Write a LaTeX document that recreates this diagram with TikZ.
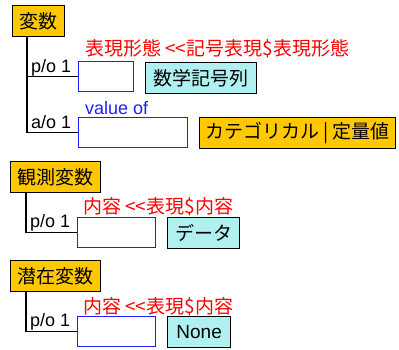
\documentclass[tikz,border=0pt]{standalone}
\usepackage{fontspec}
\setmainfont{Noto Sans CJK JP}
\newfontfamily\latfont{Liberation Sans}
\definecolor{conccol}{RGB}{255,200,0}
\definecolor{instcol}{RGB}{176,240,240}
\definecolor{slotblue}{RGB}{30,30,255}
\definecolor{rolered}{RGB}{255,0,0}

\tikzset{
    conc/.style={draw=black, line width=1.3pt, fill=conccol, minimum height=31pt, inner sep=0pt, anchor=north west},
    inst/.style={draw=black, line width=1.3pt, fill=instcol, minimum height=31pt, inner sep=0pt, anchor=north west},
    slot/.style={draw=slotblue, line width=1.3pt, fill=white, minimum height=30pt, inner sep=0pt, anchor=north west},
    role/.style={text=rolered, anchor=base west, inner sep=0pt},
    card/.style={font=\latfont\fontsize{18}{20}\selectfont, anchor=base west, inner sep=0pt},
    link/.style={line width=1.3pt, black}
}

\begin{document}
\begin{tikzpicture}[x=1pt, y=-1pt, font=\fontsize{19}{21}\selectfont]

    \useasboundingbox (0,0) rectangle (399,349);

    % first concept
    \node [conc, minimum width=52pt] (hensu) at (12,5) {変数};

    \node [slot, minimum width=55pt] (slotA) at (78,61) {};
    \node [card] (poA) at (31,72) {p/o 1};
    \node [role] (roleA) at (85,55) {表現形態 <\kern0pt<記号表現\$表現形態};
    \node [inst, minimum width=111pt] (kigo) at (145,62) {数学記号列};

    \node [slot, minimum width=109pt] (slotB) at (78,117) {};
    \node [card] (aoB) at (31,128) {a/o 1};
    \node [card, text=slotblue] (valB) at (85,114) {value of};
    \node [conc, minimum width=196pt] (cate) at (199,117) {カテゴリカル | 定量値};

    \draw [link] ([xshift=15pt]hensu.south west) |- (slotA.west);
    \draw [link] ([xshift=15pt]hensu.south west) |- (slotB.west);

    % second concept
    \node [conc, minimum width=90pt] (kansoku) at (10,161) {観測変数};

    \node [slot, minimum width=78pt] (slotC) at (77,217) {};
    \node [card] (poC) at (30,227) {p/o 1};
    \node [role] (roleC) at (83,213) {内容 <\kern0pt<表現\$内容};
    \node [inst, minimum width=72pt] (data) at (167,217) {データ};

    \draw [link] ([xshift=16pt]kansoku.south west) |- (slotC.west);

    % third concept
    \node [conc, minimum width=90pt] (senzai) at (10,260) {潜在変数};

    \node [slot, minimum width=78pt] (slotD) at (77,316) {};
    \node [card] (poD) at (30,326) {p/o 1};
    \node [role] (roleD) at (83,313) {内容 <\kern0pt<表現\$内容};
    \node [inst, minimum width=63pt, font=\latfont\fontsize{19}{21}\selectfont] (none) at (167,316) {None};

    \draw [link] ([xshift=16pt]senzai.south west) |- (slotD.west);

\end{tikzpicture}
\end{document}
